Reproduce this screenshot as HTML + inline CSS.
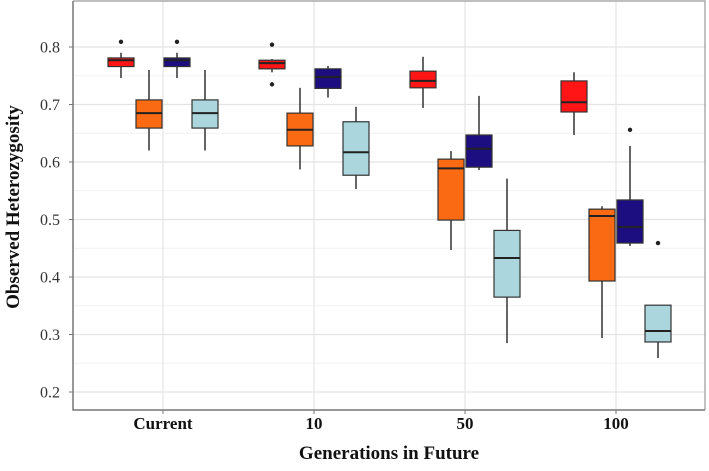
<!DOCTYPE html>
<html><head><meta charset="utf-8"><style>
body{margin:0;background:#fff;}
svg text{font-family:"Liberation Serif",serif;}
</style></head><body>
<svg id="chart" width="709" height="466" xmlns="http://www.w3.org/2000/svg"></svg>
<script>
const categories=["Current","10","50","100"];
const seriesColors=["#ff1515","#fa6a12","#1c0d80","#acd6de"];
// per category, per series: [whiskerLow, q1, median, q3, whiskerHigh]
const seriesRed=[[0.746,0.766,0.777,0.781,0.79],[0.756,0.762,0.772,0.777,0.779],[0.694,0.729,0.741,0.758,0.783],[0.647,0.687,0.704,0.741,0.756]];
const seriesOrange=[[0.62,0.659,0.685,0.708,0.76],[0.587,0.628,0.656,0.685,0.729],[0.447,0.499,0.589,0.605,0.619],[0.294,0.393,0.506,0.518,0.523]];
const seriesNavy=[[0.746,0.766,0.777,0.781,0.79],[0.712,0.728,0.748,0.762,0.767],[0.586,0.591,0.623,0.647,0.715],[0.454,0.459,0.487,0.534,0.628]];
const seriesLight=[[0.62,0.659,0.685,0.708,0.76],[0.553,0.577,0.617,0.670,0.696],[0.285,0.365,0.433,0.481,0.571],[0.259,0.287,0.306,0.351,0.351]];
// outliers: [seriesIndex, categoryIndex, value]
const outliers=[[0,0,0.809],[2,0,0.809],[0,1,0.804],[0,1,0.735],[2,3,0.656],[3,3,0.459]];
const yTicks=[0.2,0.3,0.4,0.5,0.6,0.7,0.8];
const yMinor=[0.25,0.35,0.45,0.55,0.65,0.75];

const svg=document.getElementById('chart');
const NS="http://www.w3.org/2000/svg";
const L=73,R=705,T=1,B=410;
const y=v=>47+(0.8-v)*575;
const x=i=>163+i*151;
const offs=[-42,-14,14,42];
const BW=26;
function mk(tag,attrs,parent){const e=document.createElementNS(NS,tag);for(const k in attrs)e.setAttribute(k,attrs[k]);(parent||svg).appendChild(e);return e;}

const panel=mk('rect',{x:L,y:T,width:R-L,height:B-T,fill:'#fff'});


const grid=mk('g',{});


yMinor.forEach(v=>mk('line',{x1:L,x2:R,y1:y(v),y2:y(v),stroke:'#f2f2f2','stroke-width':1},grid));
yTicks.forEach(v=>mk('line',{x1:L,x2:R,y1:y(v),y2:y(v),stroke:'#e4e4e4','stroke-width':1.2},grid));
categories.forEach((c,i)=>mk('line',{x1:x(i),x2:x(i),y1:T,y2:B,stroke:'#e4e4e4','stroke-width':1.2},grid));
const border=mk('path',{d:`M${L},${T}H${R}V${B}`,fill:'none',stroke:'#999','stroke-width':1.2});


const axes=mk('path',{d:`M${L},${T}V${B}H${R}`,fill:'none',stroke:'#777','stroke-width':1.5});



yTicks.forEach(v=>{
  mk('line',{x1:L-4,x2:L,y1:y(v),y2:y(v),stroke:'#777'});
  const t=mk('text',{x:L-13,y:y(v)+5.5,'text-anchor':'end','font-size':16,fill:'#333'});
  t.textContent=v.toFixed(1);
  
  
});
categories.forEach((c,i)=>{
  mk('line',{x1:x(i),x2:x(i),y1:B,y2:B+4,stroke:'#777'});
  const t=mk('text',{x:x(i),y:429,'text-anchor':'middle','font-size':17,'font-weight':'bold',fill:'#111'});
  t.textContent=c;
  
  
});
const xt=mk('text',{x:389,y:459,'text-anchor':'middle','font-size':19,'font-weight':'bold',fill:'#111'});
xt.textContent='Generations in Future';


const yt=mk('text',{x:0,y:0,'text-anchor':'middle','font-size':19,'font-weight':'bold',fill:'#111',transform:'translate(19,207) rotate(-90)'});
yt.textContent='Observed Heterozygosity';



const allSeries=[seriesRed,seriesOrange,seriesNavy,seriesLight];
allSeries.forEach((s,si)=>{
  s.forEach((d,ci)=>{
    const cx=x(ci)+offs[si];
    const g=mk('g',{});
    
    
    mk('line',{x1:cx,x2:cx,y1:y(d[0]),y2:y(d[4]),stroke:'#333','stroke-width':1.5},g);
    mk('rect',{x:cx-BW/2,y:y(d[3]),width:BW,height:Math.max(1,y(d[1])-y(d[3])),fill:seriesColors[si],stroke:'#333','stroke-width':1.2},g);
    mk('line',{x1:cx-BW/2,x2:cx+BW/2,y1:y(d[2]),y2:y(d[2]),stroke:'#222','stroke-width':2},g);
  });
});
outliers.forEach(o=>{
  const c=mk('circle',{cx:x(o[1])+offs[o[0]],cy:y(o[2]),r:2.2,fill:'#222'});
  
  
});
</script>
</body></html>
